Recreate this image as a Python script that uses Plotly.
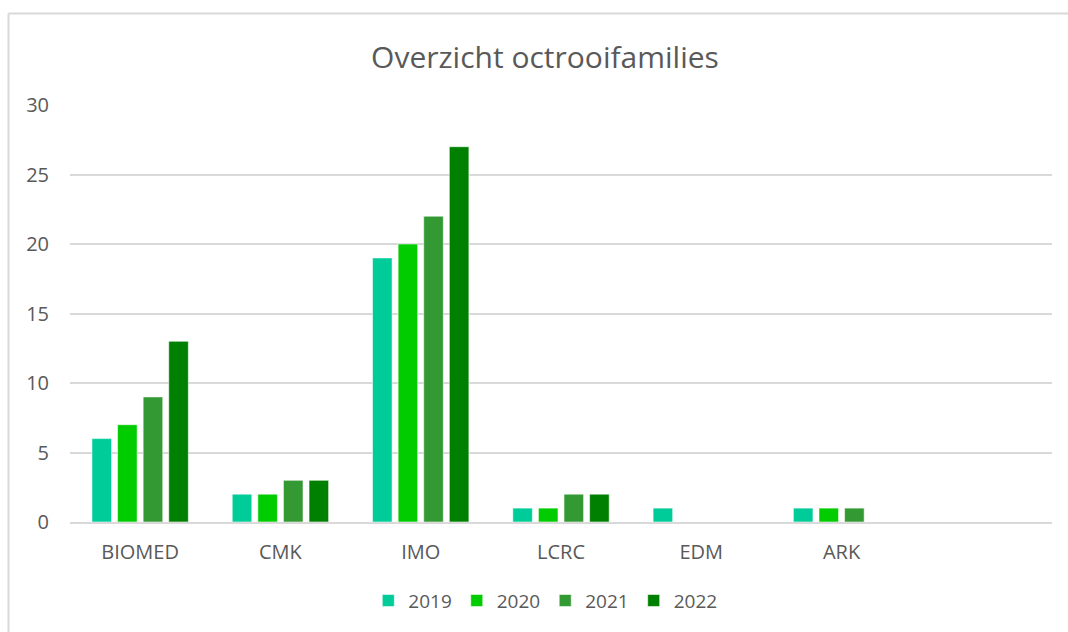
import plotly.graph_objects as go

categories = ["BIOMED", "CMK", "IMO", "LCRC", "EDM", "ARK"]
years = ["2019", "2020", "2021", "2022"]
v2019 = [6, 2, 19, 1, 1, 1]
v2020 = [7, 2, 20, 1, None, 1]
v2021 = [9, 3, 22, 2, None, 1]
v2022 = [13, 3, 27, 2, None, None]
colors = ["#00CC99", "#00CC00", "#339933", "#008000"]

W, H = 1068, 632
L, R, T, B = 70, 16, 105, 108
pw, ph = W - L - R, H - T - B

fig = go.Figure()
for name, vals, c in zip(years, [v2019, v2020, v2021, v2022], colors):
    fig.add_trace(go.Bar(
        x=categories, y=vals, name=name,
        marker=dict(color=c, line=dict(color="rgba(255,255,255,0.55)", width=1)),
    ))

font = "Open Sans, Noto Sans, sans-serif"
fig.update_layout(
    width=W, height=H,
    margin=dict(l=L, r=R, t=T, b=B),
    paper_bgcolor="white", plot_bgcolor="white",
    barmode="group", bargap=0.27, bargroupgap=0.235,
    title=dict(text="Overzicht octrooifamilies", x=545 / W, xanchor="center",
               y=1 - 57 / H, yanchor="middle",
               font=dict(family=font, size=30, color="#595959")),
    font=dict(family=font, color="#595959"),
    xaxis=dict(type="category", range=[-0.5, 6.5], showgrid=False,
               showline=True, linecolor="#D9D9D9", linewidth=2,
               ticks="", tickfont=dict(size=20, color="#595959"),
               ticklabelstandoff=11),
    yaxis=dict(range=[0, 30], dtick=5, showgrid=True, gridcolor="#D9D9D9",
               gridwidth=1.5, zeroline=False, showline=False, ticks="",
               tickfont=dict(size=20, color="#595959"), ticklabelstandoff=20),
    legend=dict(orientation="h", x=0.484, xanchor="center",
                y=-(603 - (T + ph)) / ph, yanchor="middle",
                font=dict(size=19, color="#595959"), itemwidth=30,
                traceorder="normal"),
    shapes=[
        dict(type="line", xref="paper", yref="paper",
             x0=(8.5 - L) / pw, x1=(W + 5 - L) / pw,
             y0=1 + (T - 13) / ph, y1=1 + (T - 13) / ph,
             line=dict(color="#D9D9D9", width=2)),
        dict(type="line", xref="paper", yref="paper",
             x0=(8.5 - L) / pw, x1=(8.5 - L) / pw,
             y0=1 + (T - 13) / ph, y1=-(H + 5 - T - ph) / ph,
             line=dict(color="#D9D9D9", width=2)),
    ],
)
fig.write_html("out.html", config={"displayModeBar": False},
               post_script="document.body.style.margin='0';document.body.style.overflow='hidden';")
